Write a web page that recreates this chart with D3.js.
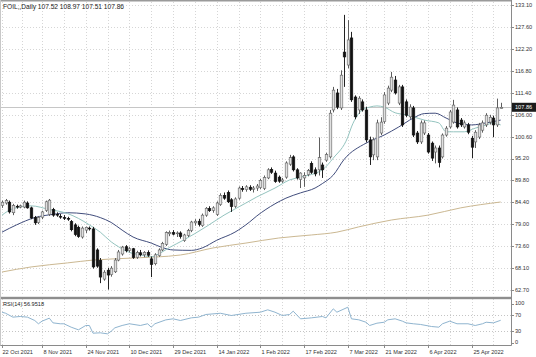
<!DOCTYPE html>
<html><head><meta charset="utf-8">
<script src="https://cdn.jsdelivr.net/npm/d3@7/dist/d3.min.js"></script>
<style>
body{margin:0;background:#fff}
svg{display:block}
text{font-family:"Liberation Sans",Arial,sans-serif}
</style>
</head><body>
<svg id="chart" width="536" height="357"></svg>
<script>
// ---------------- DATA ----------------
const titleText = "FOIL,,Daily  107.52 108.97 107.51 107.86";
const opens  = [83.6,84.2,84.4,81.8,83.4,83.2,83.2,84.2,83.0,80.6,79.4,80.7,82.4,81.4,82.6,81.4,80.9,80.6,80.4,79.6,78.8,78.2,75.8,77.5,78.0,77.8,72.6,70.0,65.4,67.6,66.5,67.2,70.1,71.6,73.4,72.5,72.9,70.8,71.9,71.4,72.0,70.4,69.2,71.2,72.6,74.0,76.6,76.9,76.6,76.8,74.9,76.2,77.4,79.3,79.7,78.6,81.2,82.8,82.4,81.4,83.8,86.1,86.8,85.0,83.4,85.4,87.8,87.5,88.1,87.6,87.9,88.0,87.8,90.4,92.5,91.6,90.6,89.6,90.6,93.8,95.6,92.4,90.0,90.4,91.2,94.0,92.4,92.4,93.6,94.8,95.6,107.2,111.4,107.7,121.5,118.3,125.0,110.4,107.2,109.2,107.2,99.8,96.1,95.6,101.5,104.3,108.9,112.1,114.6,108.9,112.9,109.2,105.5,107.7,101.5,99.3,101.5,101.0,99.0,96.8,97.8,95.6,101.0,103.0,104.2,107.2,104.7,103.0,103.5,100.2,99.3,100.5,102.2,103.5,104.2,105.2,103.5,107.52];
const highs  = [84.8,85.2,84.8,84.0,83.8,83.8,84.8,84.6,83.3,81.0,81.0,82.3,84.8,85.2,83.0,81.9,81.5,81.2,80.8,80.0,79.2,78.6,78.4,78.4,78.4,78.3,73.0,70.6,67.6,68.2,68.6,70.6,72.6,73.6,73.8,73.3,73.1,72.4,72.6,72.3,72.5,71.0,71.8,73.0,74.6,77.2,77.4,77.5,77.2,77.2,76.6,77.8,79.8,80.2,80.3,81.6,83.2,83.4,83.4,84.6,86.6,86.8,87.3,85.4,85.6,88.3,88.4,88.6,88.6,88.4,88.9,90.2,91.0,92.8,93.0,92.2,91.0,90.4,94.5,96.1,96.0,92.8,91.8,91.8,92.6,94.5,93.0,100.4,94.2,96.6,107.2,112.9,112.4,117.0,130.7,129.4,126.5,110.8,110.6,109.8,108.0,100.6,100.4,104.8,105.4,111.6,113.2,116.6,115.6,113.4,113.4,109.8,108.6,108.2,102.0,104.6,104.6,101.5,99.4,98.4,98.4,101.4,103.2,107.2,109.7,107.8,105.2,104.6,104.0,100.8,102.2,104.0,104.6,106.4,106.0,105.8,110.0,108.97];
const lows   = [83.0,83.8,81.6,81.2,82.8,82.9,82.9,82.8,80.2,78.8,79.0,80.2,82.0,81.0,80.8,80.8,80.3,80.0,79.8,77.2,76.0,75.6,75.4,76.8,77.4,68.0,68.2,64.4,65.0,62.8,66.0,66.9,69.8,71.2,72.0,72.0,70.4,70.4,71.0,70.8,70.9,65.9,68.8,70.9,72.3,73.6,76.0,76.2,75.8,75.4,74.6,75.8,77.0,78.6,78.4,78.3,80.8,82.0,81.8,81.0,83.5,85.0,84.2,82.0,83.0,85.0,87.0,87.0,87.2,86.8,87.2,87.6,87.4,90.1,91.4,89.2,89.2,89.2,90.2,93.4,92.0,90.0,87.9,88.2,90.8,91.4,90.8,91.0,90.4,94.4,95.2,106.6,107.4,107.2,112.9,117.5,109.2,104.9,106.2,106.8,99.2,93.6,94.8,94.8,101.0,103.8,108.4,111.6,111.0,108.4,103.0,105.4,105.0,100.5,98.8,98.8,101.0,96.4,94.6,94.0,93.0,95.2,100.6,102.6,103.8,102.6,103.0,102.6,101.2,95.3,97.8,100.0,101.6,103.0,103.6,100.5,103.0,107.51];
const closes = [84.4,84.8,82.0,83.6,83.2,83.5,84.4,83.0,80.5,79.3,80.6,82.0,84.5,84.9,81.2,81.3,80.8,80.5,80.2,77.6,76.4,75.9,78.0,78.2,77.8,68.4,68.6,65.9,67.1,66.4,68.1,70.1,72.1,73.3,72.4,72.9,70.7,72.0,71.4,72.0,71.3,69.0,71.4,72.6,74.2,76.9,76.9,76.5,76.8,75.9,76.3,77.4,79.5,79.7,78.9,81.2,82.9,82.3,83.0,84.2,86.1,85.4,84.5,83.3,85.2,87.9,87.5,88.2,87.6,87.9,88.4,89.8,90.5,92.4,91.8,89.5,89.6,89.9,94.1,95.4,92.4,90.4,91.6,91.0,92.2,91.8,91.4,95.4,92.4,96.2,106.4,112.1,107.9,115.8,120.3,124.5,109.7,105.5,110.1,107.2,99.8,95.6,99.8,104.0,104.2,110.9,112.6,115.3,111.4,112.9,103.5,105.9,107.9,101.0,99.3,104.0,104.0,96.8,95.3,97.8,94.2,101.0,102.7,106.7,108.4,103.0,103.5,104.0,101.7,98.0,101.7,103.5,104.0,105.9,105.4,103.5,107.7,107.86];

// moving averages (bar index, value)
const maFastBars = [0,3,8,13,18,21,24,27,30,32,35,38,41,43,46,50,56,61,67,70,75,79,82,88,91,95,96,99,101,103,105,108,111,113,116,120,122,124,127,130,133,135,137];
const maFastVals = [81.2,82.8,83.5,82.6,81.6,80.4,78.8,77.0,74.6,73.4,72.0,71.4,70.9,71.6,73.2,75.1,78.3,81.2,84.2,85.7,87.9,89.9,90.6,92.4,95.3,100.5,103.0,107.2,107.9,108.2,107.9,106.5,106.0,105.5,104.7,104.0,101.8,101.8,101.8,102.7,103.5,104.0,103.5];
const maSlowBars = [0,4,9,14,18,23,27,30,33,36,41,44,47,52,55,59,64,68,70,75,78,82,86,88,91,94,100,105,109,113,116,119,122,125,129,133,137];
const maSlowVals = [77.0,78.8,80.6,81.4,81.8,81.5,80.6,79.4,77.5,75.8,74.3,73.2,72.6,72.5,73.1,75.0,77.0,79.5,81.0,84.0,85.4,86.7,87.9,89.0,91.1,95.0,99.0,101.0,103.0,105.2,106.3,106.4,105.2,104.0,103.5,104.0,104.7];
const maLongBars = [0,8,18,25,36,49,58,67,76,85,92,98,107,117,126,137];
const maLongVals = [67.15,68.4,69.4,70.1,70.6,71.35,73.1,74.3,75.55,76.3,77.0,78.3,80.0,81.2,83.0,84.45];

// RSI(14)
const rsiBars = [0,1,3,5,7,9,10,11,13,14,16,17,19,21,23,24,25,27,29,30,31,33,35,38,40,41,42,45,47,49,52,54,56,60,63,67,71,73,75,77,79,80,82,85,88,89,91,92,95,96,98,100,101,103,105,106,108,110,111,113,115,118,120,121,123,125,128,130,132,133,135,137];
const rsiVals = [77.7,75,65,66.7,65,56.4,48,54.7,62.4,50.4,48,48,39.3,32.5,43.6,43.6,23.9,24.8,22.2,29,37.6,43.6,48,43.6,48,39.3,48,58,60.7,56.4,63.2,65,71.8,75,69.2,75,77.7,83.8,77.7,69.2,71.8,80.3,60.7,63.2,66.7,63.2,86.3,77.7,90.5,60.7,58.2,52,43.6,49.5,52,58.2,60.7,54.7,50.4,48,46.2,41,39.3,48,54.7,48,48,43.6,48,52,50.4,56.95];
const rsiLabel = "RSI(14) 56.9518";
const rsiTicks = [100,70,30,0];
const rsiLevels = [70,30];

const priceTicks = ["133.10","127.60","122.20","116.80","111.40","106.00","100.60","95.20","89.80","84.40","79.00","73.60","68.10","62.70"];
const lastPrice = 107.86;

const dateLabels = ["22 Oct 2021","8 Nov 2021","24 Nov 2021","10 Dec 2021","29 Dec 2021","14 Jan 2022","1 Feb 2022","17 Feb 2022","7 Mar 2022","21 Mar 2022","6 Apr 2022","25 Apr 2022"];
const dateLabelBars = [0,11,23,35,47,59,71,83,95,105,117,129];

// ---------------- LAYOUT ----------------
const axisX = 511;
const mainTop = 2, mainBot = 296;
const rsiTop = 299, rsiBot = 345;
const fs = 5.6;

const svg = d3.select("#chart");
const x = d3.scaleLinear().domain([0, opens.length - 1]).range([2, 500.7]);
const y = d3.scaleLinear().domain([61.22, 133.88]).range([mainBot, mainTop]);
const yr = d3.scaleLinear().domain([0, 100]).range([342.5, 303.5]);

const gridColor = "#d6d6d6";

// vertical grid positions: at label bars and midway between them
const gridBars = [];
dateLabelBars.forEach((b, i) => {
  gridBars.push(b);
  if (i < dateLabelBars.length - 1) gridBars.push((b + dateLabelBars[i + 1]) / 2);
  else gridBars.push(b + (b - dateLabelBars[i - 1]) / 2);
});

const grid = svg.append("g");
gridBars.forEach(b => {
  const gx = Math.round(x(b)) + 0.5;
  if (gx > axisX) return;
  grid.append("line").attr("x1", gx).attr("x2", gx).attr("y1", mainTop).attr("y2", mainBot)
    .attr("stroke", gridColor).attr("stroke-dasharray", "1,2");
  grid.append("line").attr("x1", gx).attr("x2", gx).attr("y1", rsiTop).attr("y2", rsiBot)
    .attr("stroke", gridColor).attr("stroke-dasharray", "1,2");
});
priceTicks.forEach(t => {
  const gy = Math.round(y(+t)) + 0.5;
  grid.append("line").attr("x1", 0).attr("x2", axisX).attr("y1", gy).attr("y2", gy)
    .attr("stroke", gridColor).attr("stroke-dasharray", "1,2");
});
rsiLevels.forEach(t => {
  const gy = Math.round(yr(t)) + 0.5;
  grid.append("line").attr("x1", 0).attr("x2", axisX).attr("y1", gy).attr("y2", gy)
    .attr("stroke", "#c4c4c4").attr("stroke-dasharray", "1,2");
});

// last price line
svg.append("line").attr("x1", 0).attr("x2", axisX)
  .attr("y1", Math.round(y(lastPrice)) + 0.5).attr("y2", Math.round(y(lastPrice)) + 0.5)
  .attr("stroke", "#c6c6c6").attr("stroke-width", 1);

// moving averages
function maLine(bars, vals, color) {
  const pts = bars.map((b, i) => [x(b), y(vals[i])]);
  svg.append("path").attr("d", d3.line().curve(d3.curveMonotoneX)(pts))
    .attr("fill", "none").attr("stroke", color).attr("stroke-width", 1);
}
maLine(maLongBars, maLongVals, "#cbb892");
maLine(maSlowBars, maSlowVals, "#414d7c");
maLine(maFastBars, maFastVals, "#94c4bf");

// candles
const data = opens.map((o, i) => ({ i, o, h: highs[i], l: lows[i], c: closes[i] }));
const cg = svg.append("g");
data.forEach(d => {
  const cx = Math.round(x(d.i)) + 0.5;
  const up = d.c >= d.o;
  cg.append("line").attr("x1", cx).attr("x2", cx).attr("y1", y(d.h)).attr("y2", y(d.l))
    .attr("stroke", up ? "#5e5e5e" : "#222").attr("stroke-width", 1);
  const top = y(Math.max(d.o, d.c)), bot = y(Math.min(d.o, d.c));
  cg.append("rect").attr("x", cx - 1.3).attr("width", 2.6)
    .attr("y", top).attr("height", Math.max(0.8, bot - top))
    .attr("fill", up ? "#e0e0e0" : "#111")
    .attr("stroke", up ? "#606060" : "#111").attr("stroke-width", 0.6);
});

// RSI line
const rsiPts = rsiBars.map((b, i) => [x(b), yr(rsiVals[i])]);
svg.append("path").attr("d", d3.line()(rsiPts))
  .attr("fill", "none").attr("stroke", "#8fb4cf").attr("stroke-width", 1);

// frame
const frameColor = "#8a8a8a";
svg.append("rect").attr("x", 0).attr("y", 0).attr("width", axisX).attr("height", 1.5).attr("fill", "#9a9a9a");
svg.append("rect").attr("x", 0).attr("y", 296.8).attr("width", axisX + 1).attr("height", 2.4).attr("fill", "#8e8e8e");
svg.append("line").attr("x1", axisX + 0.5).attr("x2", axisX + 0.5).attr("y1", 0).attr("y2", rsiBot + 0.5)
  .attr("stroke", frameColor);
svg.append("line").attr("x1", 0).attr("x2", axisX + 0.5).attr("y1", rsiBot + 0.5).attr("y2", rsiBot + 0.5)
  .attr("stroke", frameColor);
svg.append("line").attr("x1", 0.5).attr("x2", 0.5).attr("y1", 0).attr("y2", rsiBot + 0.5)
  .attr("stroke", "#c8c8c8");

// price axis labels
const ax = svg.append("g");
priceTicks.forEach(t => {
  const ty = y(+t);
  ax.append("line").attr("x1", axisX).attr("x2", axisX + 3).attr("y1", Math.round(ty) + 0.5).attr("y2", Math.round(ty) + 0.5)
    .attr("stroke", frameColor);
  ax.append("text").attr("x", 515).attr("y", ty).attr("dy", "0.35em")
    .attr("font-size", fs).attr("fill", "#333").text(t);
});
// last price box
const ly = y(lastPrice);
ax.append("rect").attr("x", axisX + 1).attr("y", ly - 4.5).attr("width", 24).attr("height", 9).attr("fill", "#1c1c1c");
ax.append("text").attr("x", 515).attr("y", ly).attr("dy", "0.35em")
  .attr("font-size", fs).attr("fill", "#fff").text(lastPrice.toFixed(2));

// RSI axis labels
rsiTicks.forEach(t => {
  const ty = yr(t);
  ax.append("line").attr("x1", axisX).attr("x2", axisX + 3).attr("y1", Math.round(ty) + 0.5).attr("y2", Math.round(ty) + 0.5)
    .attr("stroke", frameColor);
  ax.append("text").attr("x", 515).attr("y", ty).attr("dy", "0.35em")
    .attr("font-size", fs).attr("fill", "#333").text(t);
});

// date labels
dateLabels.forEach((lab, i) => {
  const lx = Math.round(x(dateLabelBars[i])) + 0.5;
  ax.append("line").attr("x1", lx).attr("x2", lx).attr("y1", rsiBot).attr("y2", rsiBot + 3).attr("stroke", frameColor);
  ax.append("text").attr("x", lx + (i === 0 ? 0 : 1)).attr("y", 353.5)
    .attr("font-size", fs).attr("fill", "#333").text(lab);
});

// titles
svg.append("text").attr("x", 3).attr("y", 8.5).attr("font-size", 6.6).attr("fill", "#222").text(titleText);
svg.append("text").attr("x", 3).attr("y", 306).attr("font-size", fs).attr("fill", "#222").text(rsiLabel);
</script>
</body></html>
